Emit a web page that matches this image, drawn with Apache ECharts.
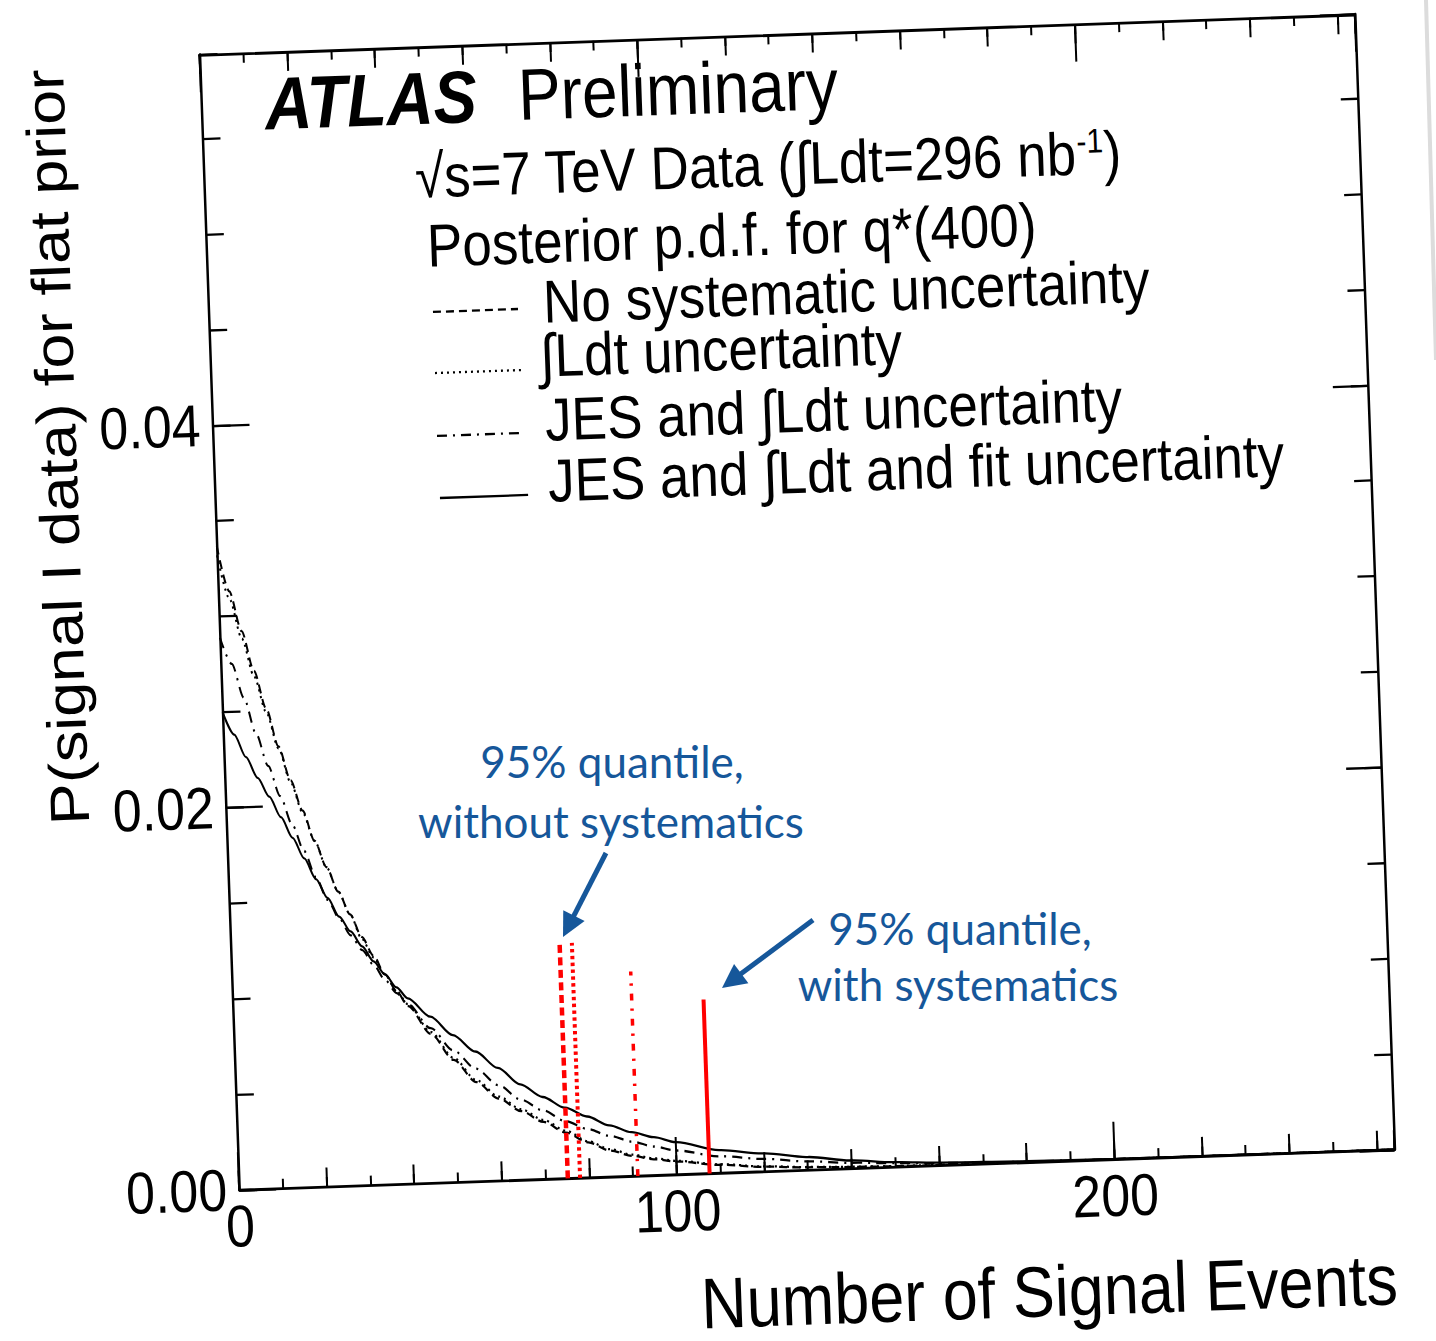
<!DOCTYPE html>
<html><head><meta charset="utf-8">
<script src="https://cdn.jsdelivr.net/npm/echarts@6/dist/echarts.min.js"></script>
<style>
html,body{margin:0;padding:0;background:#fff;overflow:hidden;width:1436px;height:1341px}
#main{position:absolute;left:0;top:0;width:1436px;height:1400px;transform-origin:797px 602px;transform:rotate(-2deg) scaleY(1.14);}
#over{position:absolute;left:0;top:0;width:1436px;height:1341px;}
</style></head><body>
<div id="main"></div><div id="over"></div>
<script>
// ---- data ----
const xValues = [0, 2.5, 5, 7.5, 10, 12.5, 15, 17.5, 20, 22.5, 25, 27.5, 30, 32.5, 35, 37.5, 40, 45, 50, 55, 60, 65, 70, 75, 80, 85, 90, 95, 100, 110, 120, 130, 140, 150, 160, 170, 180, 200, 230, 264];
const noSystematic = [0.0337, 0.0313, 0.0292, 0.0271, 0.0251, 0.0231, 0.0213, 0.0197, 0.0181, 0.0167, 0.0154, 0.0142, 0.0130, 0.0120, 0.0110, 0.0101, 0.0093, 0.0078, 0.0064, 0.0052, 0.0043, 0.0036, 0.0030, 0.0024, 0.00185, 0.00138, 0.00106, 0.00084, 0.00068, 0.00043, 0.00025, 0.00014, 0.00008, 0.00004, 0.00002, 0.00001, 0, 0, 0, 0];
const lumiUnc = [0.0332, 0.0309, 0.0288, 0.0268, 0.0249, 0.0230, 0.0212, 0.0196, 0.0181, 0.0167, 0.0154, 0.0142, 0.0129, 0.0119, 0.0110, 0.0101, 0.0094, 0.0079, 0.0065, 0.0053, 0.0044, 0.0037, 0.0031, 0.0025, 0.0019, 0.00145, 0.00112, 0.00089, 0.00072, 0.00046, 0.00027, 0.00016, 0.00009, 0.00005, 0.00003, 0.00001, 0, 0, 0, 0];
const jesLumiUnc = [0.0289, 0.0275, 0.0257, 0.0238, 0.0221, 0.0205, 0.0190, 0.0176, 0.0162, 0.0150, 0.0140, 0.0131, 0.0123, 0.0115, 0.0107, 0.0100, 0.0094, 0.0081, 0.0069, 0.0059, 0.0050, 0.0042, 0.0036, 0.0030, 0.00255, 0.00215, 0.00181, 0.00151, 0.00126, 0.00088, 0.00066, 0.00045, 0.00030, 0.00020, 0.00012, 0.00007, 0.00004, 0.00001, 0, 0];
const jesLumiFitUnc = [0.0250, 0.0238, 0.0226, 0.0215, 0.0205, 0.0194, 0.0183, 0.0172, 0.0161, 0.0151, 0.0141, 0.0133, 0.0125, 0.0117, 0.0110, 0.0103, 0.0097, 0.0087, 0.0077, 0.0068, 0.0059, 0.0050, 0.0043, 0.0037, 0.0032, 0.0027, 0.0023, 0.0020, 0.0017, 0.0012, 0.00095, 0.00068, 0.00042, 0.00025, 0.00015, 0.0001, 0.00006, 0.00002, 0, 0];
// 95% quantiles (x position, drawn height)
const quantileX = [75.1, 77.9, 91.1, 107.5];
const quantileTop = [0.0123, 0.0123, 0.0107, 0.0091];
const xTickLabels = {0: '0', 100: '100', 200: '200'};
const yTickLabels = ['0.00', '0.02', '0.04'];
const X_MAX = 264, Y_MAX = 0.0594;

const FONT = 'Liberation Sans, Arial, Helvetica, sans-serif';
const BLUE = '#16579a';

function xAx(pos, interval, len, line, labels) {
  return {
    type: 'value', position: pos, min: 0, max: X_MAX, interval: interval,
    axisLine: {show: line, onZero: false, lineStyle: {color: '#000', width: 2.5}},
    axisTick: {show: true, inside: true, length: len, lineStyle: {color: '#000', width: 2}},
    axisLabel: labels ? {
      show: true, margin: 6, fontFamily: FONT, fontSize: 52, color: '#000',
      showMinLabel: true, showMaxLabel: false,
      formatter: v => { const r = Math.round(v); return (Math.abs(v - r) < 1e-6 && xTickLabels[r] !== undefined) ? xTickLabels[r] : ''; }
    } : {show: false},
    splitLine: {show: false}, minorTick: {show: false}
  };
}
function yAx(pos, interval, len, line, labels) {
  return {
    type: 'value', position: pos, min: 0, max: Y_MAX, interval: interval,
    axisLine: {show: line, onZero: false, lineStyle: {color: '#000', width: 2.5}},
    axisTick: {show: true, inside: true, length: len, lineStyle: {color: '#000', width: 2}},
    axisLabel: labels ? {
      show: true, margin: 12, fontFamily: FONT, fontSize: 52, color: '#000',
      showMinLabel: true, showMaxLabel: false,
      formatter: v => { const r = v / 0.02, i = Math.round(r); return (Math.abs(r - i) < 1e-6 && yTickLabels[i] !== undefined) ? yTickLabels[i] : ''; }
    } : {show: false},
    splitLine: {show: false}, minorTick: {show: false}
  };
}
function pairs(ys) { return xValues.map((x, i) => [x, ys[i]]); }
function curve(name, ys, type) {
  return {name, type: 'line', xAxisIndex: 0, yAxisIndex: 0, data: pairs(ys), symbol: 'none', showSymbol: false,
    smooth: 0.3, smoothMonotone: 'x', lineStyle: {color: '#000', width: 2, type: type}, z: 3, silent: true};
}
const redStyles = [
  {width: 4.5, type: [7, 4]},
  {width: 4, type: [3, 3]},
  {width: 3.5, type: [6, 7, 2, 7]},
  {width: 4, type: 'solid'}
];
const redSeries = quantileX.map((q, i) => ({
  type: 'line', xAxisIndex: 0, yAxisIndex: 0, data: [[q, 0], [q, quantileTop[i]]], symbol: 'none',
  lineStyle: {color: '#ff0000', width: redStyles[i].width, type: redStyles[i].type}, z: 4, silent: true
}));

function txt(text, x, y, size, extra) {
  return Object.assign({type: 'text', x: x, y: y, silent: true,
    style: Object.assign({text: text, fontFamily: FONT, fontSize: size, fill: '#000', align: 'left', verticalAlign: 'middle'}, (extra && extra.style) || {})},
    (extra && extra.el) || {});
}
function legLine(x1, y, x2, dash) {
  return {type: 'line', silent: true, shape: {x1: x1, y1: y, x2: x2, y2: y}, style: {stroke: '#000', lineWidth: 2, lineDash: dash}};
}

const main = echarts.init(document.getElementById('main'), null, {renderer: 'svg'});
main.setOption({
  animation: false,
  backgroundColor: 'transparent',
  grid: {left: 219, top: 103.8, width: 1156, height: 996.5, containLabel: false},
  xAxis: [xAx('bottom', 100, 33, true, true), xAx('bottom', 20, 17, false, false), xAx('bottom', 10, 8.5, false, false),
          xAx('top', 100, 33, true, false), xAx('top', 20, 17, false, false), xAx('top', 10, 8.5, false, false)],
  yAxis: [yAx('left', 0.02, 37, true, true), yAx('left', 0.005, 18, false, false),
          yAx('right', 0.02, 35, true, false), yAx('right', 0.005, 17, false, false)],
  series: [
    curve('No systematic uncertainty', noSystematic, [8, 5]),
    curve('Ldt uncertainty', lumiUnc, [2, 4]),
    curve('JES and Ldt uncertainty', jesLumiUnc, [10, 6, 2, 6]),
    curve('JES and Ldt and fit uncertainty', jesLumiFitUnc, 'solid')
  ].concat(redSeries),
  graphic: [
    txt('ATLAS', 282.7, 149.1, 65, {style: {fontWeight: 'bold', fontStyle: 'italic'}}),
    txt('Preliminary', 535.9, 149, 64),
    txt('√s=7 TeV Data (∫Ldt=296 nb{sup|-1})', 430, 217.8, 53, {style: {rich: {sup: {fontFamily: FONT, fontSize: 30, padding: [0, 0, 22, 0]}}}}),
    txt('Posterior p.d.f. for q*(400)', 439.6, 278.6, 53),
    txt('No systematic uncertainty', 553.7, 331.2, 53),
    txt('∫Ldt uncertainty', 548.8, 378.5, 53),
    txt('JES and ∫Ldt uncertainty', 551.6, 434.7, 53),
    txt('JES and ∫Ldt and fit uncertainty', 552.4, 488.3, 53),
    legLine(443.3, 336.6, 528.4, [8, 5]),
    legLine(443.2, 390.2, 531, [2, 4]),
    legLine(443, 445.4, 528, [10, 6, 2, 6]),
    legLine(443.8, 499.9, 532, null),
    txt('P(signal I data) for flat prior', 62.9, 443.5, 55, {style: {align: 'center'}, el: {rotation: Math.PI / 2}}),
    txt('Number of Signal Events', 1373.5, 1214, 63, {style: {align: 'right'}})
  ]
});

// ---- overlay annotations (not rotated) ----
function arrow(x1, y1, x2, y2) {
  const dx = x2 - x1, dy = y2 - y1, L = Math.hypot(dx, dy), ux = dx / L, uy = dy / L;
  const hl = 24, hw = 12;
  const bx = x2 - hl * ux, by = y2 - hl * uy;
  return [
    {type: 'line', silent: true, shape: {x1: x1, y1: y1, x2: bx + ux * 2, y2: by + uy * 2}, style: {stroke: BLUE, lineWidth: 5}},
    {type: 'polygon', silent: true, shape: {points: [[x2, y2], [bx + hw * uy, by - hw * ux], [bx - hw * uy, by + hw * ux]]}, style: {fill: BLUE}}
  ];
}
function btxt(text, x, y) {
  return {type: 'text', x: x, y: y, silent: true, style: {text: text, fontFamily: 'Lato, Open Sans, sans-serif', fontSize: 44, fill: BLUE, align: 'center', verticalAlign: 'middle'}};
}
const over = echarts.init(document.getElementById('over'), null, {renderer: 'svg'});
over.setOption({
  animation: false,
  graphic: [
    btxt('95% quantile,', 612, 761),
    btxt('without systematics', 611, 821),
    btxt('95% quantile,', 960, 928),
    btxt('with systematics', 958, 984),
    {type: 'line', silent: true, shape: {x1: 1426, y1: 0, x2: 1436, y2: 360}, style: {stroke: '#dcdcdc', lineWidth: 4}}
  ].concat(arrow(606, 853, 563, 937)).concat(arrow(813, 920, 722, 988))
});
</script>
</body></html>
